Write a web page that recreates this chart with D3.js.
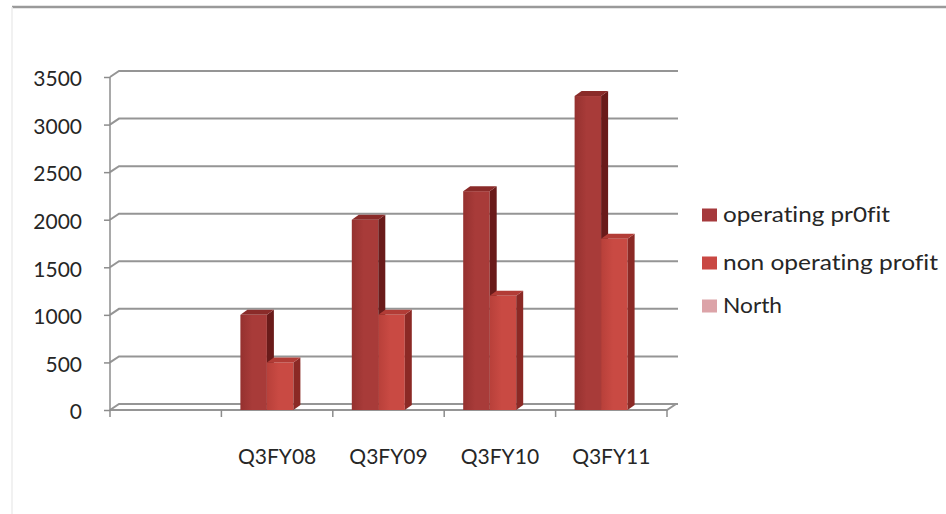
<!DOCTYPE html>
<html>
<head>
<meta charset="utf-8">
<script src="https://cdn.jsdelivr.net/npm/d3@7/dist/d3.min.js"></script>
<style>
  html, body { margin: 0; padding: 0; background: #fff; }
  svg { display: block; }
  text { font-family: Lato, "Open Sans", sans-serif; fill: #262626; font-variant-ligatures: none; font-feature-settings: "liga" 0; }
</style>
</head>
<body>
<svg id="chart" width="946" height="514"></svg>
<script>
// Quarterly profit figures
const categories = ["", "Q3FY08", "Q3FY09", "Q3FY10", "Q3FY11"];
const seriesNames = ["operating pr0fit", "non operating profit", "North"];
const operatingProfit = [null, 1000, 2000, 2300, 3300];
const nonOperatingProfit = [null, 500, 1000, 1200, 1800];
const north = [null, null, null, null, null];
const yTicks = [0, 500, 1000, 1500, 2000, 2500, 3000, 3500];

const seriesValues = [operatingProfit, nonOperatingProfit, north];
const palette = [
  { front: "#a83b39", frontDark: "#95312f", side: "#6a1b1a", top: "#8a2b29", swatch: "#a5393c" },
  { front: "#c94a43", frontDark: "#b8403a", side: "#8b2925", top: "#b23c36", swatch: "#c94843" },
  { front: "#dca3a8", frontDark: "#d0969b", side: "#b07a7e", top: "#c98d92", swatch: "#dca3a8" }
];
const legendWidths = [167, 215, 59];

const svg = d3.select("#chart");

// outer frame
svg.append("line").attr("x1", 12).attr("x2", 946).attr("y1", 7).attr("y2", 7)
  .attr("stroke", "#9a9a9a").attr("stroke-width", 2.5);
svg.append("line").attr("x1", 12).attr("x2", 12).attr("y1", 7).attr("y2", 514)
  .attr("stroke", "#ececec").attr("stroke-width", 1.5);

// plot geometry
const plotLeft = 110, plotRight = 667;
const wallDx = 9, wallDy = -6;   // depth of the back wall
const barDx = 7, barDy = -5;     // depth of each column

const x0 = d3.scaleBand().domain(categories).range([plotLeft, plotRight]).padding(0);
const x1 = d3.scaleBand().domain(seriesNames).range([19, 19 + 3 * 26.5]).padding(0);
const y = d3.scaleLinear().domain([0, 3500]).range([410, 77]);

// back-wall gridlines and the side-wall connectors
const grid = svg.append("g");
yTicks.forEach(t => {
  grid.append("path")
    .attr("d", `M${plotLeft},${y(t)}L${plotLeft + wallDx},${y(t) + wallDy}L${plotRight + wallDx + 2},${y(t) + wallDy}`)
    .attr("fill", "none").attr("stroke", "#959595").attr("stroke-width", 2);
});
// floor front edge and its right corner
grid.append("path")
  .attr("d", `M${plotLeft},${y(0)}L${plotRight},${y(0)}L${plotRight + wallDx},${y(0) + wallDy}`)
  .attr("fill", "none").attr("stroke", "#959595").attr("stroke-width", 2);

// value axis
const yAxis = svg.append("g")
  .attr("transform", `translate(${plotLeft},0)`)
  .call(d3.axisLeft(y).tickValues(yTicks).tickSize(6).tickPadding(22).tickFormat(d3.format("d")));
yAxis.select(".domain").attr("stroke", "#8c8c8c").attr("stroke-width", 1.5)
  .attr("d", `M0,${y(3500)}V${y(0) + 1}`);
yAxis.selectAll(".tick line").attr("stroke", "#8c8c8c").attr("stroke-width", 1.5);
yAxis.selectAll(".tick text")
  .attr("dy", "0.42em")
  .style("font-family", "Lato, 'Open Sans', sans-serif")
  .style("font-size", "21px").attr("fill", "#262626");

// category axis: ticks between categories, labels centred in each band
const xAxis = svg.append("g").attr("transform", `translate(0,${y(0)})`)
  .call(d3.axisBottom(x0).tickSize(0).tickPadding(39));
xAxis.select(".domain").remove();
xAxis.selectAll(".tick text")
  .style("font-family", "Lato, 'Open Sans', sans-serif")
  .style("font-size", "21px").attr("fill", "#262626");
const bounds = categories.map(c => x0(c)).concat([plotRight]);
xAxis.selectAll("line.sep").data(bounds).join("line").attr("class", "sep")
  .attr("x1", d => d).attr("x2", d => d).attr("y1", 0).attr("y2", 7)
  .attr("stroke", "#8c8c8c").attr("stroke-width", 1.5);

// front-face shading
const defs = svg.append("defs");
palette.forEach((p, i) => {
  const g = defs.append("linearGradient").attr("id", "face" + i)
    .attr("x1", "0%").attr("x2", "100%").attr("y1", "0%").attr("y2", "0%");
  g.append("stop").attr("offset", "0%").attr("stop-color", p.frontDark);
  g.append("stop").attr("offset", "45%").attr("stop-color", p.front);
  g.append("stop").attr("offset", "100%").attr("stop-color", p.front);
});

// 3-D columns
const bars = svg.append("g");
categories.forEach((c, ci) => {
  seriesNames.forEach((s, si) => {
    const v = seriesValues[si][ci];
    if (v == null) return;
    const p = palette[si];
    const xl = x0(c) + x1(s);
    const xr = xl + x1.bandwidth();
    const yt = y(v), yb = y(0);
    const g = bars.append("g");
    g.append("rect").attr("x", xl).attr("y", yt).attr("width", xr - xl).attr("height", yb - yt)
      .attr("fill", `url(#face${si})`);
    g.append("path")
      .attr("d", `M${xr},${yt}L${xr + barDx},${yt + barDy}L${xr + barDx},${yb + barDy}L${xr},${yb}Z`)
      .attr("fill", p.side);
    g.append("path")
      .attr("d", `M${xl},${yt}L${xl + barDx},${yt + barDy}L${xr + barDx},${yt + barDy}L${xr},${yt}Z`)
      .attr("fill", p.top);
  });
});

// legend
const legend = svg.append("g");
const legendY = [215, 263, 306];
seriesNames.forEach((s, i) => {
  legend.append("rect").attr("x", 702).attr("y", legendY[i] - 6.5).attr("width", 15).attr("height", 13)
    .attr("fill", palette[i].swatch);
  legend.append("text").attr("x", 723).attr("y", legendY[i]).attr("dy", "0.35em")
    .attr("textLength", legendWidths[i]).attr("lengthAdjust", "spacingAndGlyphs")
    .style("font-size", "21px").text(s);
});
</script>
</body>
</html>
